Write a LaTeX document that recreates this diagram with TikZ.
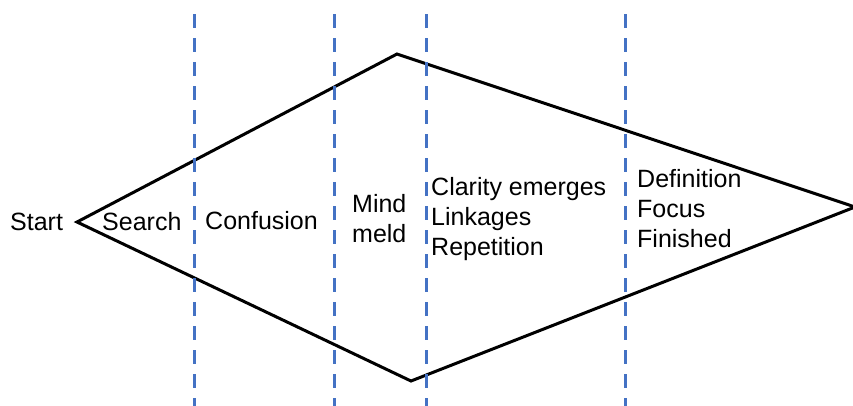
\documentclass[tikz,border=0pt]{standalone}
\usepackage{fontspec}
\setmainfont{Liberation Sans}
\definecolor{guide}{HTML}{4472C4}
\begin{document}
\begin{tikzpicture}[x=1pt,y=-1pt,
  phase/.style={anchor=base west,inner sep=0pt,align=left,
    font=\fontsize{25}{30}\selectfont},
  divider/.style={guide,line width=3pt,dash pattern=on 14pt off 10pt},
  outline/.style={black,line width=3pt,line join=miter}]
\useasboundingbox (0,0) rectangle (853,405);

% diamond corners
\coordinate (L) at (77,222);
\coordinate (T) at (397,54);
\coordinate (R) at (855,207);
\coordinate (B) at (411,381);
\draw[outline] (L) -- (T) -- (R) -- (B) -- cycle;

% dashed phase dividers
\foreach \i/\x in {1/194,2/334,3/426,4/625}{
  \coordinate (d\i top) at (\x,14);
  \coordinate (d\i bot) at (\x,410);
  \draw[divider] (d\i top) -- (d\i bot);
}

% phase labels (anchored on the baseline of the last line)
\node[phase] (start) at (10,230) {Start};
\node[phase] (search) at (102,230) {Search};
\node[phase] (confusion) at (205,229) {Confusion};
\node[phase] (mind) at (352,242) {Mind\\meld};
\node[phase] (clarity) at (431,255) {Clarity emerges\\Linkages\\Repetition};
\node[phase] (definition) at (637,247) {Definition\\Focus\\Finished};
\end{tikzpicture}
\end{document}
